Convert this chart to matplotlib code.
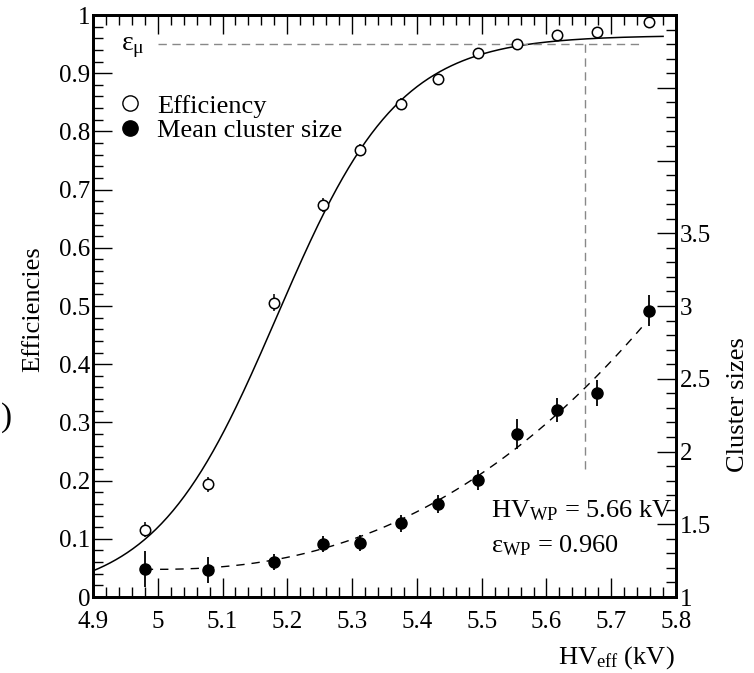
"""
Efficiency and mean cluster size versus effective HV, with sigmoid and power-law fits.
"""

import matplotlib

matplotlib.use("Agg")
import matplotlib.pyplot as plt
import numpy as np
from matplotlib.lines import Line2D
from matplotlib.ticker import FuncFormatter, MultipleLocator

# ---------------------------------------------------------------------------
# Data
# ---------------------------------------------------------------------------
hv_eff = [4.980, 5.077, 5.179, 5.255, 5.312, 5.375, 5.432, 5.494, 5.554, 5.616, 5.678, 5.758]
efficiency = [0.116, 0.194, 0.506, 0.673, 0.768, 0.847, 0.890, 0.935, 0.951, 0.966, 0.971, 0.988]
efficiency_err = [0.013, 0.013, 0.015, 0.012, 0.011, 0.011, 0.009, 0.008, 0.007, 0.006, 0.006, 0.005]
cluster_size = [1.192, 1.186, 1.238, 1.364, 1.373, 1.506, 1.639, 1.804, 2.120, 2.285, 2.404, 2.968]
cluster_err = [0.124, 0.090, 0.055, 0.055, 0.055, 0.060, 0.062, 0.070, 0.103, 0.085, 0.090, 0.105]

# sigmoid fit: eps_max / (1 + exp(-lam * (HV - hv50)))
eps_max = 0.965
fit_lam = 10.63
fit_hv50 = 5.184
# cluster size fit: c0 + k * (HV - hv0) ** p
cl_c0 = 1.19
cl_k = 3.19
cl_hv0 = 4.99
cl_p = 2.34

hv_wp = 5.66
eps_plateau = 0.95

# ---------------------------------------------------------------------------
# Style
# ---------------------------------------------------------------------------
plt.rcParams["font.family"] = ["Liberation Serif", "DejaVu Serif"]
plt.rcParams["mathtext.fontset"] = "custom"
plt.rcParams["mathtext.rm"] = "Liberation Serif"
plt.rcParams["mathtext.it"] = "Liberation Serif"
plt.rcParams["mathtext.bf"] = "Liberation Serif:bold"

TICK_FS = 18
TEXT_FS = 19

fig = plt.figure(figsize=(7.54, 6.73), dpi=100)
ax = fig.add_axes([0.1233, 0.1129, 0.7733, 0.8648])
ax2 = ax.twinx()

# efficiency fit
x_fit = np.linspace(4.9, 5.78, 300)
eff_fit = eps_max / (1.0 + np.exp(-fit_lam * (x_fit - fit_hv50)))
ax.plot(x_fit, eff_fit, color="black", lw=1.1)

# plateau / working point guides
ax.plot([5.0, 5.75], [eps_plateau, eps_plateau], color="#888888", lw=1.0, ls=(0, (6, 4)))
ax.plot([hv_wp, hv_wp], [eps_plateau, 0.213], color="#888888", lw=1.0, ls=(0, (6, 4)))

ax.errorbar(hv_eff, efficiency, yerr=efficiency_err, fmt="o", ms=7.5, mfc="white",
            mec="black", mew=1.1, ecolor="black", elinewidth=1.1, capsize=0, zorder=5)

# cluster size fit
x_cl = np.linspace(4.98, 5.747, 300)
cl_fit = cl_c0 + cl_k * np.clip(x_cl - cl_hv0, 0, None) ** cl_p
ax2.plot(x_cl, cl_fit, color="black", lw=1.0, ls=(0, (6, 5)))
ax2.errorbar(hv_eff, cluster_size, yerr=cluster_err, fmt="o", ms=8, mfc="black",
             mec="black", ecolor="black", elinewidth=1.3, capsize=0, zorder=5)

# ---------------------------------------------------------------------------
# Axes
# ---------------------------------------------------------------------------
ax.set_xlim(4.9, 5.8)
ax.set_ylim(0, 1)
ax2.set_ylim(1, 5)

fmt = FuncFormatter(lambda v, _: "%g" % round(v, 3))
ax.xaxis.set_major_locator(MultipleLocator(0.1))
ax.xaxis.set_minor_locator(MultipleLocator(0.02))
ax.yaxis.set_major_locator(MultipleLocator(0.1))
ax.yaxis.set_minor_locator(MultipleLocator(0.02))
ax.xaxis.set_major_formatter(fmt)
ax.yaxis.set_major_formatter(fmt)
ax.tick_params(which="both", direction="in", top=True, right=False, labelsize=TICK_FS,
               width=1.0)
ax.tick_params(axis="y", pad=2)
ax.tick_params(axis="x", pad=10)
ax.tick_params(which="major", length=14)
ax.tick_params(which="minor", length=7)

ax2.yaxis.set_major_locator(MultipleLocator(0.5))
ax2.yaxis.set_minor_locator(MultipleLocator(0.1))
ax2.yaxis.set_major_formatter(FuncFormatter(lambda v, _: "%g" % v if v <= 3.5 else ""))
ax2.tick_params(which="both", direction="in", labelsize=TICK_FS, width=1.0, pad=3)
ax2.tick_params(which="major", length=14)
ax2.tick_params(which="minor", length=7)

for a in (ax, ax2):
    for s in a.spines.values():
        s.set_linewidth(2.0)

ax.set_ylabel("Efficiencies", fontsize=TEXT_FS)
ax.yaxis.set_label_coords(-0.083, 0.495)
ax2.set_ylabel("Cluster sizes", fontsize=TEXT_FS)
ax2.yaxis.set_label_coords(1.088, 0.33)
fig.text(0.895, 0.014, r"HV$_{\mathrm{eff}}$ (kV)", fontsize=TEXT_FS, ha="right", va="baseline")

# annotations
ax.text(4.944, 0.945, r"ε$_{\mathrm{\mu}}$", fontsize=TEXT_FS + 1, va="center")
ax.text(5.515, 0.136, r"HV$_{\mathrm{WP}}$ = 5.66 kV", fontsize=TEXT_FS, va="baseline")
ax.text(5.515, 0.076, r"ε$_{\mathrm{WP}}$ = 0.960", fontsize=TEXT_FS, va="baseline")

handles = [
    Line2D([], [], marker="o", ls="none", ms=11, mfc="white", mec="black", mew=1.0),
    Line2D([], [], marker="o", ls="none", ms=11, mfc="black", mec="black"),
]
ax.legend(handles, ["Efficiency", "Mean cluster size"], loc="upper left",
          bbox_to_anchor=(-0.005, 0.905), frameon=False, fontsize=TEXT_FS,
          handletextpad=0.45, labelspacing=0.05, handlelength=1.2)

# cropped panel tag on the far left
fig.text(0.001, 0.38, ")", fontsize=24, ha="left", va="center")

fig.savefig("out.png", dpi=100)
